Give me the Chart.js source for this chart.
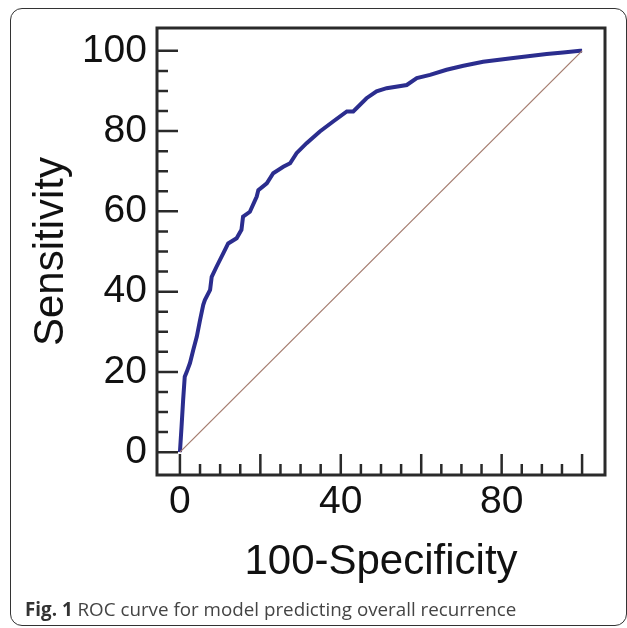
<!DOCTYPE html>
<html>
<head>
<meta charset="utf-8">
<script src="https://cdn.jsdelivr.net/npm/chart.js@4.4.0/dist/chart.umd.min.js"></script>
<style>
  body { margin: 0; background: #fff; }
  #wrap { position: relative; width: 627px; height: 628px; overflow: hidden; }
  #frame { position: absolute; left: 10px; top: 8px; width: 617px; height: 618px; border: 1.5px solid #333; border-radius: 12px; box-sizing: border-box; }
  canvas { position: absolute; left: 0; top: 0; }
  #caption { position: absolute; left: 25px; top: 596px; font-family: 'Open Sans', sans-serif; font-size: 18.8px; color: #444; white-space: nowrap; }
  #caption b { color: #333; }
</style>
</head>
<body>
<div id="wrap">
  <div id="frame"></div>
  <canvas id="roc" width="627" height="628"></canvas>
  <div id="caption"><b>Fig. 1</b> ROC curve for model predicting overall recurrence</div>
</div>
<script>
// ROC curve (100-Specificity, Sensitivity)
const fpr = [0, 0.4, 0.8, 1.2, 1.7, 2.5, 3.3, 4.2, 5.0, 5.8, 6.2, 7.5, 7.9, 9.1, 10.8, 12.0, 14.1, 15.3, 15.7, 17.4,
    19.1, 19.5, 21.6, 23.2, 25.7, 27.4, 29.0, 31.5, 34.8, 38.1, 41.5, 43.1, 46.4, 48.9, 51.4, 56.4, 58.9, 62.2,
    66.3, 70.5, 75.4, 82.9, 91.2, 95.3, 99.5, 100];
const tpr = [0, 6.3, 13.0, 18.8, 20.0, 22.2, 25.4, 28.8, 32.9, 36.7, 37.9, 40.4, 43.7, 46.2, 49.6, 52.0, 53.3, 55.4, 58.7, 59.9,
    63.7, 65.3, 67.0, 69.5, 71.1, 72.0, 74.5, 77.0, 79.9, 82.4, 84.9, 84.9, 88.2, 89.9, 90.7, 91.5, 93.2, 94.0,
    95.3, 96.3, 97.3, 98.2, 99.2, 99.6, 100, 100];

// reference diagonal
const diagX = [0, 100];
const diagY = [0, 100];

// tick labels
const xTicks = [0, 40, 80];
const yTicks = [0, 20, 40, 60, 80, 100];
const minorStep = 5;

// box around the plot plus inward tick marks
const boxTicks = {
    id: 'boxTicks',
    afterDatasetsDraw(chart) {
        const { ctx, chartArea: a, scales: { x, y } } = chart;
        ctx.save();
        ctx.strokeStyle = '#2a2a2a';
        ctx.lineWidth = 3;
        ctx.strokeRect(a.left, a.top, a.right - a.left, a.bottom - a.top);
        ctx.lineWidth = 2.5;
        ctx.beginPath();
        for (let v = 0; v <= 100; v += minorStep) {
            const len = v % 20 === 0 ? 21 : 11;
            const py = y.getPixelForValue(v);
            ctx.moveTo(a.left, py);
            ctx.lineTo(a.left + len, py);
            const px = x.getPixelForValue(v);
            ctx.moveTo(px, a.bottom);
            ctx.lineTo(px, a.bottom - len);
        }
        ctx.stroke();
        ctx.restore();
    }
};

const ctx = document.getElementById('roc').getContext('2d');
const rocChart = new Chart(ctx, {
    type: 'scatter',
    data: {
        datasets: [{
            data: diagX.map((v, i) => ({ x: v, y: diagY[i] })),
            showLine: true,
            borderColor: '#a57d70',
            borderWidth: 1.3,
            pointRadius: 0
        }, {
            data: fpr.map((v, i) => ({ x: v, y: tpr[i] })),
            showLine: true,
            borderColor: '#2b2d8e',
            borderWidth: 4,
            pointRadius: 0,
            tension: 0
        }]
    },
    options: {
        responsive: false,
        animation: false,
        layout: { padding: { top: 28, right: 22, left: 0, bottom: 28 } },
        plugins: { legend: { display: false }, tooltip: { enabled: false } },
        scales: {
            x: {
                type: 'linear',
                min: -5.7,
                max: 105.7,
                afterBuildTicks: s => { s.ticks = xTicks.map(v => ({ value: v })); },
                afterFit: s => { s.height = 125; },
                ticks: { font: { family: 'Liberation Sans', size: 39 }, color: '#111', padding: 4, maxRotation: 0, autoSkip: false },
                grid: { display: false, drawTicks: false },
                border: { display: false },
                title: { display: true, text: '100-Specificity', color: '#111',
                    font: { family: 'Liberation Sans', size: 42 }, padding: { top: 0, bottom: 12 } }
            },
            y: {
                type: 'linear',
                min: -5.7,
                max: 105.7,
                afterBuildTicks: s => { s.ticks = yTicks.map(v => ({ value: v })); },
                afterFit: s => { s.width = 157; s.paddingTop = 0; s.paddingBottom = 0; },
                ticks: { font: { family: 'Liberation Sans', size: 39 }, color: '#111', padding: 10, autoSkip: false },
                grid: { display: false, drawTicks: false },
                border: { display: false },
                title: { display: true, text: 'Sensitivity', color: '#111',
                    font: { family: 'Liberation Sans', size: 42 }, padding: { top: 26, bottom: 0 } }
            }
        }
    },
    plugins: [boxTicks]
});
</script>
</body>
</html>
